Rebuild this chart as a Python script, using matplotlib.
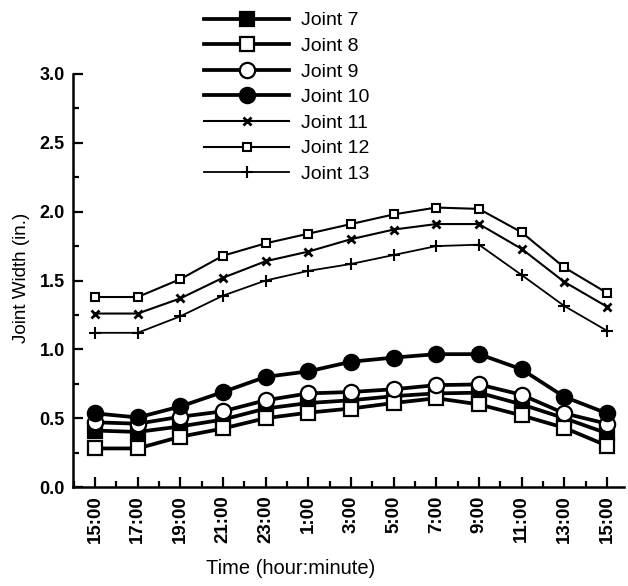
import matplotlib
matplotlib.use("Agg")
import matplotlib.pyplot as plt
from matplotlib.ticker import MultipleLocator, FixedLocator

plt.rcParams['font.family'] = ['Liberation Sans', 'DejaVu Sans']

times = ["15:00", "17:00", "19:00", "21:00", "23:00", "1:00", "3:00",
         "5:00", "7:00", "9:00", "11:00", "13:00", "15:00"]

joint7 = [0.41, 0.40, 0.44, 0.49, 0.57, 0.61, 0.63, 0.66, 0.68, 0.685, 0.60, 0.50, 0.39]
joint8 = [0.28, 0.28, 0.365, 0.425, 0.50, 0.54, 0.57, 0.61, 0.645, 0.60, 0.52, 0.43, 0.30]
joint9 = [0.47, 0.46, 0.51, 0.55, 0.63, 0.68, 0.69, 0.71, 0.74, 0.745, 0.67, 0.535, 0.46]
joint10 = [0.535, 0.505, 0.585, 0.69, 0.80, 0.84, 0.91, 0.94, 0.965, 0.965, 0.855, 0.655, 0.535]
joint11 = [1.26, 1.26, 1.37, 1.52, 1.64, 1.71, 1.80, 1.87, 1.91, 1.91, 1.73, 1.49, 1.31]
joint12 = [1.38, 1.38, 1.51, 1.68, 1.77, 1.84, 1.91, 1.98, 2.03, 2.02, 1.85, 1.595, 1.41]
joint13 = [1.12, 1.12, 1.24, 1.39, 1.50, 1.57, 1.62, 1.685, 1.75, 1.76, 1.54, 1.315, 1.135]

series = [
    ("Joint 7", joint7, dict(marker='s', markersize=10.5, markerfacecolor='black', markeredgewidth=1.6, lw=2.7)),
    ("Joint 8", joint8, dict(marker='s', markersize=10.5, markerfacecolor='white', markeredgewidth=1.6, lw=2.7)),
    ("Joint 9", joint9, dict(marker='o', markersize=11, markerfacecolor='white', markeredgewidth=1.6, lw=2.7)),
    ("Joint 10", joint10, dict(marker='o', markersize=11, markerfacecolor='black', markeredgewidth=1.6, lw=2.7)),
    ("Joint 11", joint11, dict(marker='x', markersize=5.5, markeredgewidth=2.0, lw=1.5)),
    ("Joint 12", joint12, dict(marker='s', markersize=6, markerfacecolor='white', markeredgewidth=1.5, lw=1.5)),
    ("Joint 13", joint13, dict(marker='+', markersize=9, markeredgewidth=1.5, lw=1.3)),
]

fig = plt.figure(figsize=(6.28, 5.86), dpi=100)
ax = fig.add_axes([73 / 628, 1 - 487 / 586, (624 - 73) / 628, (487 - 74) / 586])

x = list(range(len(times)))
handles = []
for name, vals, style in series:
    h, = ax.plot(x, vals, color='black', markeredgecolor='black', label=name, **style)
    handles.append(h)

ax.set_xlim(-0.516, 12.4)
ax.set_ylim(0, 3.0)
ax.set_xticks(x)
ax.set_xticklabels(times, rotation=90, fontsize=13.5, fontweight='bold')
ax.xaxis.set_minor_locator(FixedLocator([i + 0.5 for i in range(-1, 12)]))
ax.yaxis.set_minor_locator(MultipleLocator(0.25))
ax.set_yticks([0, 0.5, 1.0, 1.5, 2.0, 2.5, 3.0])
ax.set_yticklabels(["0.0", "0.5", "1.0", "1.5", "2.0", "2.5", "3.0"], fontsize=13, fontweight='bold')
ax.tick_params(which='major', direction='in', length=7, width=1.6, pad=6)
ax.tick_params(which='minor', direction='in', length=4, width=1.6)
for side in ('top', 'right'):
    ax.spines[side].set_visible(False)
for side in ('left', 'bottom'):
    ax.spines[side].set_linewidth(1.8)

ax.set_xlabel("Time (hour:minute)", fontsize=14.5)
ax.xaxis.set_label_coords((291 - 73) / 551, -(568 - 487) / 413)
ax.set_ylabel("Joint Width (in.)", fontsize=13.5)
ax.yaxis.set_label_coords(-(73 - 22) / 551, (487 - 278) / 413)
ax.xaxis.label.set_verticalalignment('center')
ax.yaxis.label.set_verticalalignment('center')

fig.legend(handles=handles, loc='upper left', bbox_to_anchor=(196 / 628, 1 - 4 / 586),
           frameon=False, fontsize=14, handlelength=4.4, labelspacing=0.41,
           handletextpad=0.6, borderaxespad=0)

fig.savefig("out.png", dpi=100)
